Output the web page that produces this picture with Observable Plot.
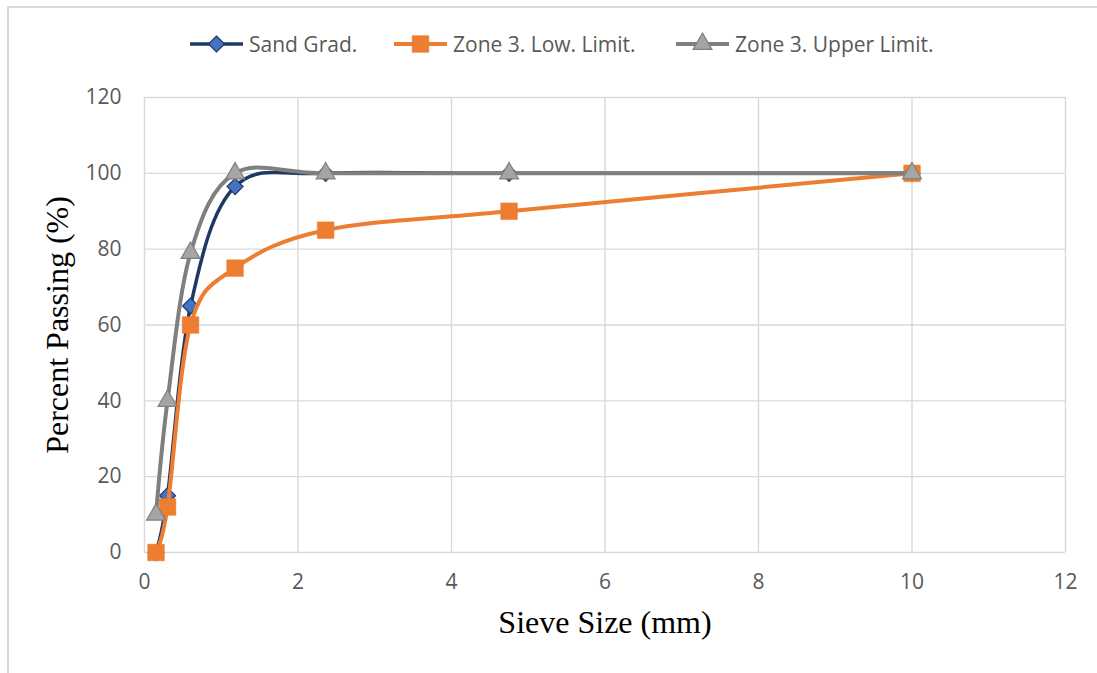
<!DOCTYPE html>
<html>
<head>
<meta charset="utf-8">
<script src="https://cdn.jsdelivr.net/npm/d3@7"></script>
<script src="https://cdn.jsdelivr.net/npm/@observablehq/plot@0.6"></script>
<style>
  html, body { margin: 0; padding: 0; background: #fff; }
  #wrap { position: relative; width: 1097px; height: 673px; overflow: hidden; background: #fff; }
  #frame { position: absolute; left: 7px; top: 6px; width: 1200px; height: 800px; border: 2px solid #d9d9d9; box-sizing: border-box; }
  #legend { position: relative; height: 70px; font-family: "Open Sans", sans-serif; font-size: 21px; color: #595959; }
  .item { position: absolute; top: 30px; display: flex; align-items: center; gap: 5px; white-space: nowrap; }
  #chart { position: relative; }
</style>
</head>
<body>
<div id="wrap">
  <div id="frame"></div>
  <div id="legend"></div>
  <div id="chart"></div>
</div>
<script>
// Sieve sizes (mm) and percent passing for each series
const sieves = [0.15, 0.3, 0.6, 1.18, 2.36, 4.75, 10];
const sandGrad = [0, 15, 65, 96.5, 100, 100, 100];
const zone3Low = [0, 12, 60, 75, 85, 90, 100];
const zone3Upper = [10, 40, 79, 100, 100, 100, 100];

const seriesNames = ["Sand Grad.", "Zone 3. Low. Limit.", "Zone 3. Upper Limit."];
const xTicks = [0, 2, 4, 6, 8, 10, 12];
const yTicks = [0, 20, 40, 60, 80, 100, 120];

const styles = [
  {line: "#1f3864", fill: "#4472c4", stroke: "#1f3864", symbol: "diamond2", r: 7.2, sw: 1.2, width: 3.5},
  {line: "#ed7d31", fill: "#ed7d31", stroke: "#ed7d31", symbol: "square", r: 9.4, sw: 0.5, width: 4},
  {line: "#7f7f7f", fill: "#a5a5a5", stroke: "#7f7f7f", symbol: "triangle", r: 7, sw: 1.2, width: 4}
];

const values = [sandGrad, zone3Low, zone3Upper];
const tables = values.map((vals, i) => sieves.map((s, j) => ({size: s, pass: vals[j], series: seriesNames[i]})));

const serif = "'Liberation Serif', 'Times New Roman', serif";
const marks = [
  Plot.gridX(xTicks, {stroke: "#d9d9d9", strokeOpacity: 1, strokeWidth: 1.4}),
  Plot.gridY(yTicks, {stroke: "#d9d9d9", strokeOpacity: 1, strokeWidth: 1.4}),
  Plot.axisX(xTicks, {tickSize: 0, tickPadding: 22, label: null}),
  Plot.axisY(yTicks, {tickSize: 0, tickPadding: 23, label: null}),
];
tables.forEach((t, i) => {
  const st = styles[i];
  marks.push(Plot.line(t, {x: "size", y: "pass", stroke: st.line, strokeWidth: st.width, curve: "cardinal"}));
  marks.push(Plot.dot(t, {x: "size", y: "pass", symbol: () => st.symbol, r: st.r, fill: st.fill, stroke: st.stroke, strokeWidth: st.sw}));
});
marks.push(
  Plot.text(["Percent Passing (%)"], {frameAnchor: "left", textAnchor: "middle", dx: -87, rotate: -90, fontFamily: serif, fontSize: 32, fill: "#000"}),
  Plot.text(["Sieve Size (mm)"], {frameAnchor: "bottom", textAnchor: "middle", dy: 80, fontFamily: serif, fontSize: 32, fill: "#000"})
);

const chart = Plot.plot({
  width: 1097,
  height: 603,
  marginTop: 27,
  marginLeft: 144,
  marginRight: 32,
  marginBottom: 121,
  x: {domain: [0, 12]},
  y: {domain: [0, 120]},
  style: {fontFamily: "'Open Sans', sans-serif", fontSize: "21px", color: "#595959", background: "transparent", overflow: "visible"},
  marks
});
document.getElementById("chart").appendChild(chart);

// Legend: line swatch with marker, followed by the series name
const legend = d3.select("#legend");
const lefts = [189, 393, 675];
seriesNames.forEach((name, i) => {
  const st = styles[i];
  const item = legend.append("div").attr("class", "item").style("left", lefts[i] + "px");
  const svg = item.append("svg").attr("width", 55).attr("height", 24);
  svg.append("line").attr("x1", 1).attr("x2", 54).attr("y1", 12).attr("y2", 12)
    .attr("stroke", st.line).attr("stroke-width", st.width);
  const symbols = {diamond2: d3.symbolDiamond2, square: d3.symbolSquare, triangle: d3.symbolTriangle};
  svg.append("path").attr("transform", "translate(27.5,12)")
    .attr("d", d3.symbol(symbols[st.symbol], Math.PI * st.r * st.r)())
    .attr("fill", st.fill).attr("stroke", st.stroke).attr("stroke-width", st.sw);
  item.append("span").text(name);
});
</script>
</body>
</html>
